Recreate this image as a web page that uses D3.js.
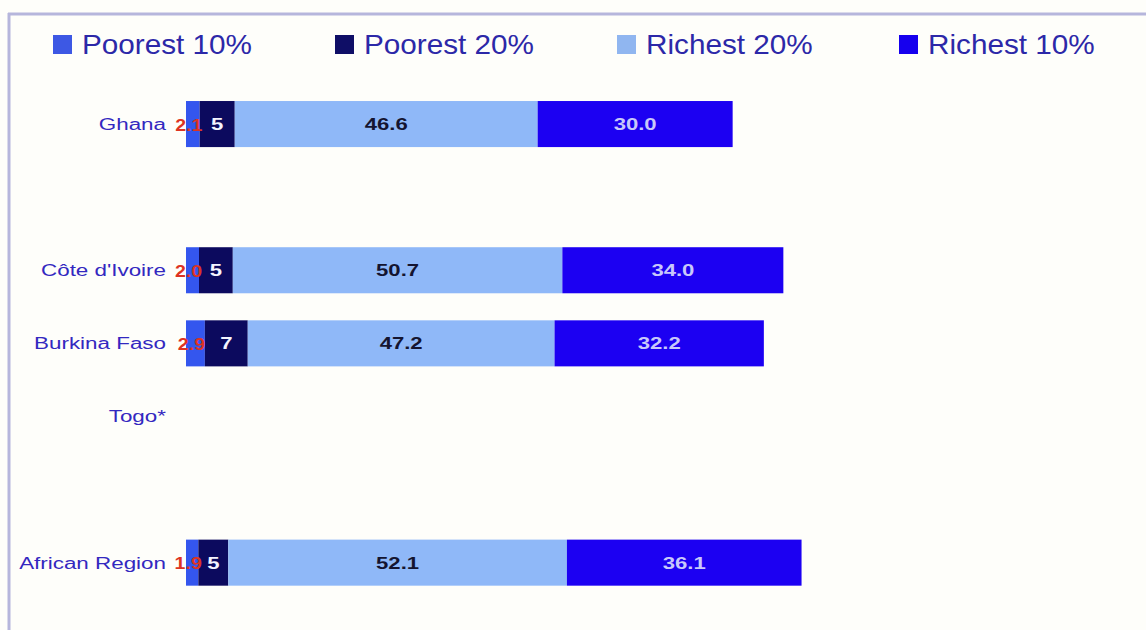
<!DOCTYPE html>
<html>
<head>
<meta charset="utf-8">
<script src="https://cdn.jsdelivr.net/npm/d3@7"></script>
<style>
  html, body { margin: 0; padding: 0; background: #fefefa; }
  svg { display: block; font-family: "Liberation Sans", Arial, sans-serif; }
</style>
</head>
<body>
<svg id="chart" width="1146" height="630"></svg>
<script>
// ---- data ----
const categories = ["Ghana", "", "Côte d'Ivoire", "Burkina Faso", "Togo*", "", "African Region"];
const seriesNames = ["Poorest 10%", "Poorest 20%", "Richest 20%", "Richest 10%"];
const poorest10 = [2.1, null, 2.0, 2.9, null, null, 1.9];
const poorest20 = [5.4, null, 5.2, 6.6, null, null, 4.6];
const richest20 = [46.6, null, 50.7, 47.2, null, null, 52.1];
const richest10 = [30.0, null, 34.0, 32.2, null, null, 36.1];
const labelFormats = [".1f", ".0f", ".1f", ".1f"];

// ---- styles ----
const fills = ["#3456ee", "#0c0a5e", "#8fb8f8", "#1c00f2"];
const legendFills = ["#3d58e4", "#0f0e66", "#90b6f0", "#1600ee"];
const labelColors = ["#dd3322", "#f4f4ff", "#141430", "#c8c8fa"];

const svg = d3.select("#chart");
const W = 1146, H = 630;

svg.append("rect").attr("width", W).attr("height", H).attr("fill", "#fefefa");
// frame
svg.append("line").attr("x1", 8).attr("x2", W).attr("y1", 14).attr("y2", 14)
  .attr("stroke", "#b6b6dc").attr("stroke-width", 3);
svg.append("line").attr("x1", 9).attr("x2", 9).attr("y1", 13).attr("y2", H)
  .attr("stroke", "#b6b6dc").attr("stroke-width", 3);

const x = d3.scaleLinear().domain([0, 100]).range([186, 836]);
const y = d3.scaleBand().domain(d3.range(categories.length))
  .range([87.5, 599.2]).paddingInner(0.37).paddingOuter(0.185);

function stretchedText(g, tx, ty, sx, txt) {
  return g.append("text")
    .attr("transform", `translate(${tx},${ty}) scale(${sx},1)`)
    .text(txt);
}

// legend
const legend = svg.append("g");
seriesNames.forEach((name, i) => {
  const lx = 53 + i * 282;
  legend.append("rect").attr("x", lx).attr("y", 35).attr("width", 19).attr("height", 19)
    .attr("fill", legendFills[i]);
  stretchedText(legend, lx + 29, 54, 1.1, name)
    .attr("font-size", 27).attr("fill", "#2c28a8");
});

// stack
const rows = categories.map((c, i) => ({
  idx: i, cat: c,
  vals: [poorest10[i], poorest20[i], richest20[i], richest10[i]]
}));

const barsG = svg.append("g");
rows.forEach(r => {
  if (r.vals[0] == null) return;
  let acc = 0;
  r.vals.forEach((v, k) => {
    const x0 = x(acc), x1 = x(acc + v);
    acc += v;
    barsG.append("rect")
      .attr("x", x0).attr("y", y(r.idx))
      .attr("width", x1 - x0).attr("height", y.bandwidth())
      .attr("fill", fills[k]);
  });
});

// value labels
const labG = svg.append("g").attr("font-weight", "bold").attr("text-anchor", "middle");
rows.forEach(r => {
  if (r.vals[0] == null) return;
  let acc = 0;
  r.vals.forEach((v, k) => {
    const cx = (x(acc) + x(acc + v)) / 2;
    acc += v;
    const cy = y(r.idx) + y.bandwidth() / 2 + 6;
    stretchedText(labG, k === 0 ? cx - 4 : cx, k === 0 ? cy + 0.5 : cy, k === 0 ? 1.15 : 1.38,
      d3.format(labelFormats[k])(v))
      .attr("font-size", k === 0 ? 17 : 16)
      .attr("fill", labelColors[k]);
  });
});

// category labels
const catG = svg.append("g").attr("text-anchor", "end");
rows.forEach(r => {
  if (!r.cat.trim()) return;
  stretchedText(catG, 166, y(r.idx) + y.bandwidth() / 2 + 6, 1.4, r.cat)
    .attr("font-size", 16).attr("fill", "#3328c0");
});
</script>
</body>
</html>
